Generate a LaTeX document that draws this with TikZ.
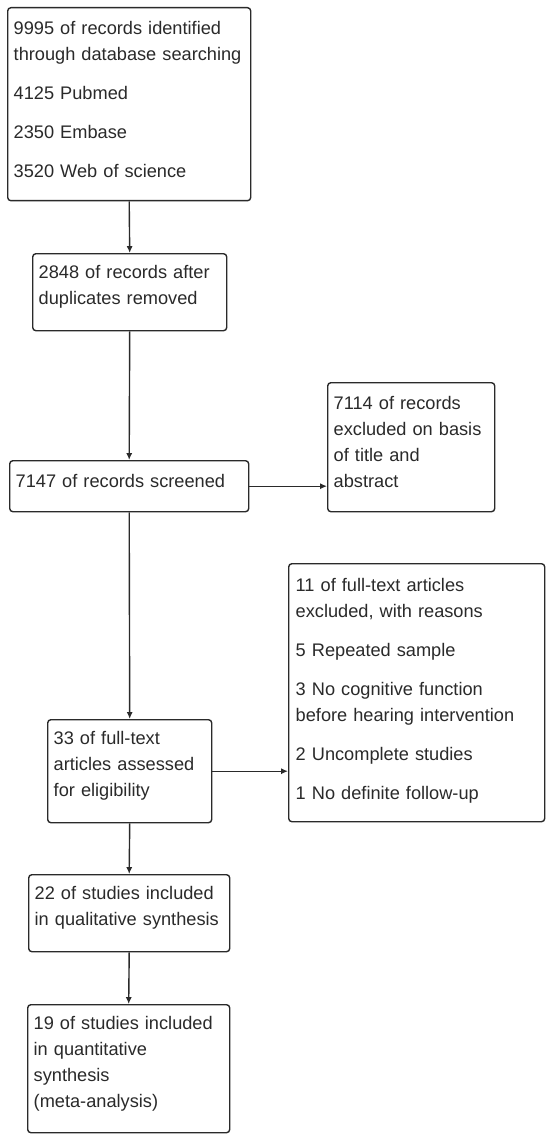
\documentclass[tikz,border=0pt]{standalone}
\usepackage{fontspec}
\setsansfont{Liberation Sans}
\usetikzlibrary{arrows.meta}
\definecolor{Frame}{HTML}{2A2A2A}

\begin{document}
\begin{tikzpicture}[x=0.5pt,y=-0.5pt,>={Latex[length=3.4pt,width=3pt]},
  stage/.style={draw=Frame,line width=0.7pt,rounded corners=1.6pt,anchor=north west,
    inner xsep=3pt,inner ysep=0pt,align=left,text=Frame,
    font=\sffamily\fontsize{9.1}{13}\selectfont,
    execute at end node={\endgraf\kern#1}},
  stage/.default=5pt,
  flow/.style={->,draw=Frame,line width=0.7pt}]
\useasboundingbox (0,0) rectangle (550,1139);
\fill[white] (0,0) rectangle (550,1139);
% identification
\node[stage,text width=115.5pt,minimum height=96.5pt] (ident) at (7,7)
  {9995 of records identified\\through database searching\\[6.5pt]4125 Pubmed\\[6.5pt]2350 Embase\\[6.5pt]3520 Web of science};
\node[stage,text width=91pt,minimum height=38.5pt] (dup) at (32,253)
  {2848 of records after\\duplicates removed};
% screening
\node[stage,text width=113.5pt,minimum height=25.5pt] (scr) at (9,460)
  {7147 of records screened};
\node[stage,text width=77.5pt,minimum height=64.5pt] (exclA) at (327,382)
  {7114 of records\\excluded on basis\\of title and\\abstract};
% eligibility
\node[stage,text width=76pt,minimum height=51.5pt] (elig) at (47,719)
  {33 of full-text\\articles assessed\\for eligibility};
\node[stage=2pt,text width=121pt,inner xsep=3.5pt,minimum height=129pt] (exclB) at (288,563)
  {11 of full-text articles\\excluded, with reasons\\[6.5pt]5 Repeated sample\\[6.5pt]3 No cognitive function\\before hearing intervention\\[6.5pt]2 Uncomplete studies\\[6.5pt]1 No definite follow-up};
% included
\node[stage,text width=94.5pt,minimum height=38.5pt] (qual) at (28,874)
  {22 of studies included\\in qualitative synthesis};
\node[stage,text width=95pt,minimum height=64pt] (quant) at (27,1004)
  {19 of studies included\\in quantitative\\synthesis\\(meta-analysis)};
% connectors
\draw[flow] (ident.south) -- (dup.north);
\draw[flow] (dup.south) -- (scr.north);
\draw[flow] (scr.east) -- (scr.east -| exclA.west);
\draw[flow] (scr.south) -- (elig.north);
\draw[flow] (elig.east) -- (elig.east -| exclB.west);
\draw[flow] (elig.south) -- (qual.north);
\draw[flow] (qual.south) -- (quant.north);
\end{tikzpicture}
\end{document}
